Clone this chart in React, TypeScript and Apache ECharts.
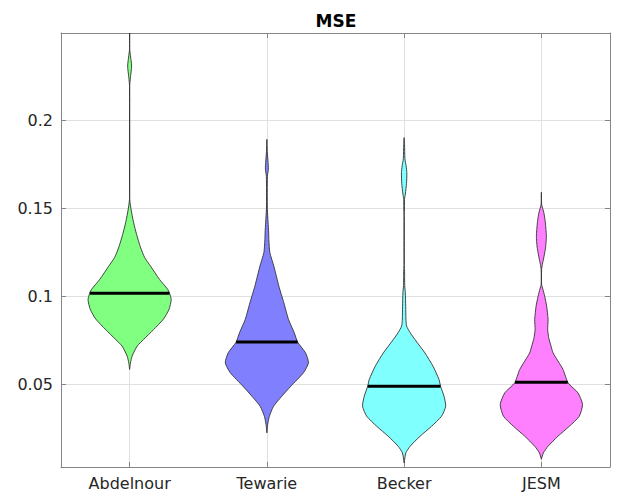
import React, { useEffect, useRef } from "react";
import * as echarts from "echarts";

// ---- data ----
const categories = ["Abdelnour", "Tewarie", "Becker", "JESM"];
const yTicks = [0.05, 0.1, 0.15, 0.2];
const yMin = 0.003;
const yMax = 0.2494;
const medians = [0.1017, 0.0739, 0.0489, 0.0511];

// MSE values along each violin and the relative density (half-width, max = 1)
const abdelnourValues = [0.2494, 0.241, 0.238, 0.2307, 0.224, 0.2186, 0.156, 0.15, 0.1417, 0.135, 0.128, 0.122, 0.117, 0.1095, 0.104, 0.1017, 0.098, 0.0925, 0.087, 0.081, 0.0754, 0.0716, 0.066, 0.062, 0.0584];
const abdelnourDensity = [0, 0, 0.012, 0.048, 0.019, 0, 0, 0.029, 0.096, 0.168, 0.257, 0.36, 0.504, 0.719, 0.911, 0.959, 1, 0.947, 0.815, 0.576, 0.336, 0.18, 0.06, 0.019, 0];

const tewarieValues = [0.189, 0.182, 0.176, 0.172, 0.168, 0.15, 0.142, 0.136, 0.132, 0.1247, 0.117, 0.1057, 0.0962, 0.0868, 0.0792, 0.0739, 0.0678, 0.0622, 0.0565, 0.0489, 0.0432, 0.0375, 0.0318, 0.027, 0.0224];
const tewarieDensity = [0, 0.01, 0.029, 0.036, 0.012, 0.01, 0.029, 0.043, 0.048, 0.072, 0.168, 0.288, 0.408, 0.52, 0.659, 0.739, 0.93, 1, 0.88, 0.576, 0.36, 0.161, 0.06, 0.019, 0];

const beckerValues = [0.19, 0.186, 0.178, 0.174, 0.17, 0.164, 0.158, 0.155, 0.148, 0.145, 0.118, 0.115, 0.106, 0.102, 0.094, 0.087, 0.083, 0.0793, 0.0754, 0.0678, 0.0602, 0.0527, 0.0489, 0.0432, 0.0375, 0.0318, 0.0261, 0.0205, 0.0148, 0.011, 0.0053];
const beckerDensity = [0, 0.01, 0.019, 0.048, 0.065, 0.058, 0.029, 0.01, 0.007, 0, 0, 0.01, 0.014, 0.029, 0.038, 0.043, 0.06, 0.144, 0.259, 0.499, 0.695, 0.839, 0.875, 0.959, 1, 0.899, 0.659, 0.384, 0.144, 0.041, 0];

const jesmValues = [0.159, 0.152, 0.1474, 0.1417, 0.134, 0.128, 0.1227, 0.118, 0.115, 0.1067, 0.104, 0.1, 0.0943, 0.0868, 0.081, 0.076, 0.072, 0.0678, 0.0584, 0.0508, 0.0451, 0.0385, 0.0318, 0.0261, 0.0205, 0.0148, 0.011, 0.0074];
const jesmDensity = [0, 0.007, 0.06, 0.096, 0.12, 0.103, 0.065, 0.024, 0.005, 0.005, 0.036, 0.079, 0.127, 0.161, 0.151, 0.18, 0.228, 0.281, 0.52, 0.64, 0.88, 0.99, 0.911, 0.671, 0.4, 0.161, 0.048, 0];

const violinColors = ["#80ff80", "#8080ff", "#80ffff", "#ff80ff"];

const violins = [
  { values: abdelnourValues, density: abdelnourDensity },
  { values: tewarieValues, density: tewarieDensity },
  { values: beckerValues, density: beckerDensity },
  { values: jesmValues, density: jesmDensity },
];

const FONT = "DejaVu Sans";
const AXIS_GRAY = "#858585";
const LABEL_COLOR = "#262626";

function densityAt(values: number[], density: number[], v: number): number {
  for (let k = 0; k < values.length - 1; k++) {
    const a = values[k];
    const b = values[k + 1];
    if ((v <= a && v >= b) || (v >= a && v <= b)) {
      const t = a === b ? 0 : (v - a) / (b - a);
      return density[k] + t * (density[k + 1] - density[k]);
    }
  }
  return 0;
}

export default function App() {
  const ref = useRef<HTMLDivElement>(null);

  useEffect(() => {
    if (!ref.current) return;
    const chart = echarts.init(ref.current, undefined, { renderer: "svg" });

    const xPositions = categories.map((_, i) => i + 1);

    const commonX = {
      type: "value" as const,
      min: 0.5,
      max: 4.5,
      axisLine: { show: true, onZero: false, lineStyle: { color: AXIS_GRAY, width: 1 } },
      axisTick: { show: true, inside: true, length: 5, customValues: xPositions, lineStyle: { color: AXIS_GRAY } },
      splitLine: { show: false },
    };
    const commonY = {
      type: "value" as const,
      min: yMin,
      max: yMax,
      axisLine: { show: true, onZero: false, lineStyle: { color: AXIS_GRAY, width: 1 } },
      axisTick: { show: true, inside: true, length: 5, customValues: yTicks, lineStyle: { color: AXIS_GRAY } },
      splitLine: { show: false },
    };

    const option = {
      animation: false,
      backgroundColor: "#ffffff",
      graphic: [
        {
          type: "text",
          x: 336,
          y: 20.5,
          style: {
            text: "MSE",
            fill: "#000000",
            font: `bold 17px "${FONT}"`,
            textAlign: "center",
            textVerticalAlign: "middle",
          },
        },
      ],
      grid: { left: 61, right: 10, top: 33, bottom: 31, containLabel: false },
      xAxis: [
        {
          ...commonX,
          position: "bottom",
          axisLabel: {
            show: true,
            customValues: xPositions,
            formatter: (val: number) => categories[Math.round(val) - 1] ?? "",
            color: LABEL_COLOR,
            fontFamily: FONT,
            fontSize: 16,
            margin: 8,
          },
          splitLine: { show: true, lineStyle: { color: "#e0e0e0", width: 1 } },
        },
        { ...commonX, position: "top", axisLabel: { show: false } },
      ],
      yAxis: [
        {
          ...commonY,
          position: "left",
          axisLabel: {
            show: true,
            customValues: yTicks,
            color: LABEL_COLOR,
            fontFamily: FONT,
            fontSize: 16,
            margin: 8,
          },
          splitLine: { show: true, lineStyle: { color: "#e0e0e0", width: 1 } },
        },
        { ...commonY, position: "right", axisLabel: { show: false } },
      ],
      series: [
        {
          type: "custom",
          xAxisIndex: 0,
          yAxisIndex: 0,
          clip: true,
          data: categories.map((_, i) => [i + 1, medians[i]]),
          encode: { x: 0, y: 1 },
          renderItem: (params: any, api: any) => {
            const idx = params.dataIndex;
            const pos = api.value(0);
            const v = violins[idx];
            const cx = api.coord([pos, yMin])[0];
            const band = api.size([1, 0])[0];
            const half = band * 0.303;
            const rightSide = v.values.map((val, k) => [cx + v.density[k] * half, api.coord([pos, val])[1]]);
            const leftSide = v.values.map((val, k) => [cx - v.density[k] * half, api.coord([pos, val])[1]]).reverse();
            const med = medians[idx];
            const my = api.coord([pos, med])[1];
            const mw = densityAt(v.values, v.density, med) * half;
            return {
              type: "group",
              children: [
                {
                  type: "polygon",
                  shape: { points: rightSide.concat(leftSide), smooth: 0.2 },
                  style: { fill: violinColors[idx], stroke: "#333333", lineWidth: 0.9 },
                },
                {
                  type: "line",
                  shape: { x1: cx - mw, y1: my, x2: cx + mw, y2: my },
                  style: { stroke: "#000000", lineWidth: 3 },
                },
              ],
            };
          },
        },
      ],
    };

    chart.setOption(option as any);
    return () => chart.dispose();
  }, []);

  return (
    <div
      ref={ref}
      style={{ position: "fixed", left: 0, top: 0, width: 620, height: 498, background: "#fff" }}
    />
  );
}
